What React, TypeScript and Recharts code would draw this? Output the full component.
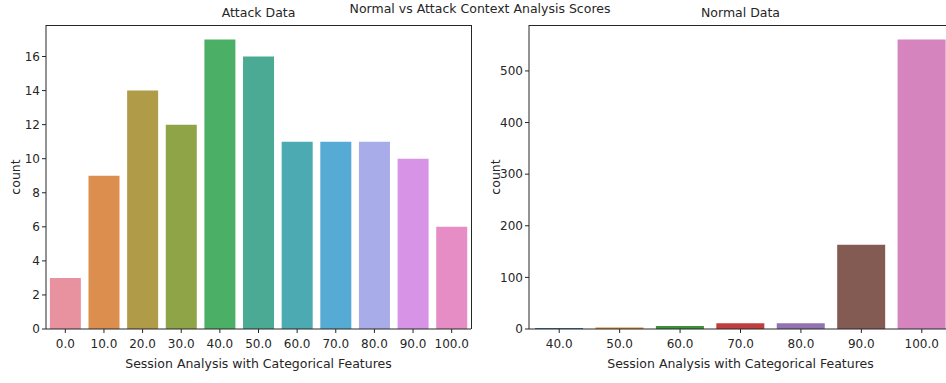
import React from "react";
import { BarChart, Bar, XAxis, YAxis, Cell } from "recharts";

// Attack sessions: count per context-analysis score
const attackScores = ["0.0", "10.0", "20.0", "30.0", "40.0", "50.0", "60.0", "70.0", "80.0", "90.0", "100.0"];
const attackCounts = [3, 9, 14, 12, 17, 16, 11, 11, 11, 10, 6];
const attackColors = [
  "#e8929f", "#dc8e4f", "#b09b48", "#8fa347", "#4caf66", "#4aaa93",
  "#4caab2", "#55abd4", "#a8ade9", "#d794e6", "#e78dc6",
];
const attackTicks = [0, 2, 4, 6, 8, 10, 12, 14, 16];

// Normal sessions
const normalScores = ["40.0", "50.0", "60.0", "70.0", "80.0", "90.0", "100.0"];
const normalCounts = [2, 3, 6, 11, 11, 163, 561];
const normalColors = ["#3274a1", "#e1812c", "#3a923a", "#c03d3e", "#9372b2", "#845b53", "#d684bd"];
const normalTicks = [0, 100, 200, 300, 400, 500];

const INK = "#262626";
const FONT = "'DejaVu Sans', sans-serif";

const attackData = attackScores.map((s, i) => ({ score: s, count: attackCounts[i] }));
const normalData = normalScores.map((s, i) => ({ score: s, count: normalCounts[i] }));

const tickStyle = { fill: INK, fontSize: 12, fontFamily: FONT };

function CountLabel({ viewBox }: any) {
  const x = viewBox.x + 15;
  const y = viewBox.y + viewBox.height / 2;
  return (
    <text
      x={x}
      y={y}
      transform={`rotate(-90, ${x}, ${y})`}
      textAnchor="middle"
      dominantBaseline="central"
      fill={INK}
      fontSize={12.5}
      fontFamily={FONT}
    >
      count
    </text>
  );
}

function CountPlot({
  data,
  colors,
  ticks,
  yMax,
  axisWidth,
  rightMargin,
}: {
  data: { score: string; count: number }[];
  colors: string[];
  ticks: number[];
  yMax: number;
  axisWidth: number;
  rightMargin: number;
}) {
  return (
    <BarChart
      width={480}
      height={383}
      data={data}
      margin={{ top: 25, right: rightMargin, bottom: 0, left: 0 }}
      barCategoryGap="10%"
    >
      <XAxis
        dataKey="score"
        interval={0}
        height={54}
        tickSize={4}
        tickMargin={6}
        tick={tickStyle}
        stroke={INK}
        label={{
          value: "Session Analysis with Categorical Features",
          position: "insideBottom",
          offset: 15,
          fill: INK,
          fontSize: 12.5,
          fontFamily: FONT,
        }}
      />
      <YAxis
        type="number"
        domain={[0, yMax]}
        ticks={ticks}
        width={axisWidth}
        tickSize={4}
        tickMargin={2}
        tick={tickStyle}
        stroke={INK}
        label={<CountLabel />}
      />
      <Bar dataKey="count" isAnimationActive={false}>
        {data.map((d, i) => (
          <Cell key={d.score} fill={colors[i]} />
        ))}
      </Bar>
    </BarChart>
  );
}

const titleStyle: React.CSSProperties = {
  position: "absolute",
  fontSize: 12.5,
  lineHeight: "14px",
  color: INK,
  textAlign: "center",
  whiteSpace: "nowrap",
};

// top and right spines of each axes box
const spineStyle: React.CSSProperties = {
  position: "absolute",
  top: 25,
  height: 304,
  borderTop: `1px solid ${INK}`,
  borderRight: `1px solid ${INK}`,
  boxSizing: "border-box",
  pointerEvents: "none",
};

export default function App() {
  return (
    <div
      style={{
        position: "absolute",
        left: 0,
        top: 0,
        width: 946,
        height: 383,
        overflow: "hidden",
        background: "#fff",
        fontFamily: FONT,
      }}
    >
      <div style={{ position: "absolute", left: 0, top: 0 }}>
        <CountPlot
          data={attackData}
          colors={attackColors}
          ticks={attackTicks}
          yMax={17.85}
          axisWidth={46}
          rightMargin={9}
        />
      </div>
      <div style={{ position: "absolute", left: 480, top: 0 }}>
        <CountPlot
          data={normalData}
          colors={normalColors}
          ticks={normalTicks}
          yMax={589}
          axisWidth={49}
          rightMargin={8}
        />
      </div>
      <div style={{ ...spineStyle, left: 46, width: 426 }} />
      <div style={{ ...spineStyle, left: 529, width: 424 }} />
      <div style={{ ...titleStyle, left: 46, width: 425, top: 6 }}>Attack Data</div>
      <div style={{ ...titleStyle, left: 529, width: 423, top: 6 }}>Normal Data</div>
      <div style={{ ...titleStyle, left: 0, width: 960, top: 2 }}>Normal vs Attack Context Analysis Scores</div>
    </div>
  );
}
